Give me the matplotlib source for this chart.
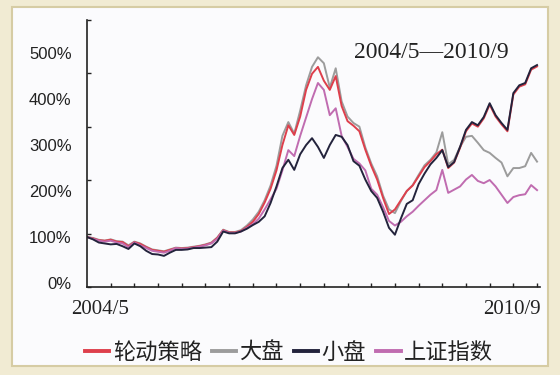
import numpy as np
import matplotlib.pyplot as plt
from matplotlib.patches import Rectangle

plt.rcParams['font.family'] = ['Noto Sans CJK SC', 'DejaVu Sans']

# monthly values, 2004/5 .. 2010/9 (77 months), in %
months = np.arange(77)
rotation = [100, 97, 93, 92, 94, 90, 89, 80, 89, 85,
            78, 72, 70, 68, 72, 76, 75, 76, 78, 80,
            83, 87, 98, 115, 110, 110, 113, 122, 133, 150,
            175, 205, 245, 300, 343, 322, 362, 420, 455, 470,
            440, 420, 450, 385, 352, 342, 330, 290, 255, 225,
            185, 150, 160, 180, 200, 212, 232, 252, 265, 280,
            290, 250, 262, 294, 330, 347, 340, 358, 388, 362,
            345, 330, 410, 427, 432, 464, 471]
large = [100, 98, 94, 92, 95, 91, 90, 82, 90, 86,
         79, 73, 71, 69, 73, 77, 76, 77, 79, 81,
         84, 88, 99, 116, 111, 111, 115, 125, 138, 155,
         180, 212, 255, 320, 350, 325, 375, 430, 470, 491,
         478, 425, 467, 395, 362, 348, 340, 295, 260, 232,
         190, 160, 152, 178, 200, 213, 235, 256, 268, 284,
         328, 258, 268, 296, 318, 320, 305, 289, 283, 272,
         262, 232, 250, 250, 254, 283, 264]
small = [100, 95, 88, 86, 84, 85, 80, 74, 86, 80,
         70, 63, 62, 59, 66, 72, 72, 73, 76, 76,
         77, 78, 90, 112, 108, 108, 112, 118, 126, 133,
         145, 174, 210, 250, 268, 246, 280, 300, 315, 296,
         272, 300, 322, 318, 300, 265, 255, 225, 200, 185,
         155, 120, 105, 140, 172, 180, 215, 238, 258, 272,
         289, 252, 263, 296, 333, 350, 343, 361, 391, 365,
         348, 333, 413, 430, 435, 467, 474]
shindex = [100, 96, 92, 90, 92, 88, 86, 78, 88, 82,
           76, 70, 68, 66, 70, 76, 74, 75, 77, 79,
           82, 86, 96, 114, 109, 109, 112, 120, 128, 140,
           160, 182, 205, 245, 289, 276, 320, 360, 400, 435,
           420, 365, 380, 320, 296, 270, 260, 245, 205, 192,
           165, 135, 125, 133, 145, 155, 168, 180, 192, 202,
           246, 196, 203, 210, 225, 235, 222, 217, 224, 210,
           192, 174, 187, 191, 193, 213, 202]

names = ['轮动策略', '大盘', '小盘', '上证指数']
colors = ['#de3f4c', '#9c9c9c', '#23233c', '#c06cb0']
yticks = [0, 100, 200, 300, 400, 500]
ylabels = ['0%', '100%', '200%', '300%', '400%', '500%']

fig = plt.figure(figsize=(5.6, 3.75), dpi=100)
fig.patch.set_facecolor('#f1ebd3')
fig.patches.append(Rectangle((12 / 560, 1 - 366 / 375), 536 / 560, 359 / 375,
                             transform=fig.transFigure, facecolor='#fbfbfd',
                             edgecolor='#d6cca4', linewidth=1.5, zorder=-10))

ax = fig.add_axes([87 / 560, 1 - 287 / 375, 453 / 560, 267 / 375])
ax.set_facecolor('none')

l_large, = ax.plot(months, large, color=colors[1], lw=1.4)
l_rot, = ax.plot(months, rotation, color=colors[0], lw=1.4)
l_sh, = ax.plot(months, shindex, color=colors[3], lw=1.4)
l_small, = ax.plot(months, small, color=colors[2], lw=1.4)

ax.set_xlim(0, 76.5)
ax.set_ylim(-8.7, 572)

for s in ['top', 'right']:
    ax.spines[s].set_visible(False)
for s in ['left', 'bottom']:
    ax.spines[s].set_linewidth(1.2)
    ax.spines[s].set_color('#222222')

ax.set_yticks(yticks)
ax.set_yticklabels(ylabels, family='Liberation Sans', fontsize=12, color='#222222')
ax.tick_params(axis='y', length=0, pad=11)
ax.set_yticks(np.linspace(-8.7, 572, 6), minor=True)
ax.set_xticks([])
ax.set_xticks(np.arange(4, 77, 4), minor=True)
ax.tick_params(which='minor', direction='in', length=3, width=1, color='#222222')

ax.text(0.029, -0.086, '2004/5', transform=ax.transAxes, ha='center', va='center',
        family='Liberation Serif', fontsize=15, color='#222222')
ax.text(0.938, -0.086, '2010/9', transform=ax.transAxes, ha='center', va='center',
        family='Liberation Serif', fontsize=15, color='#222222')
ax.text(0.76, 0.88, '2004/5\u20142010/9', transform=ax.transAxes, ha='center', va='center',
        family='Liberation Serif', fontsize=17, color='#222222')

leg = fig.legend([l_rot, l_large, l_small, l_sh], names, loc='center',
                 bbox_to_anchor=(289 / 560, 1 - 352 / 375), ncol=4, frameon=False,
                 fontsize=16, handlelength=1.1, handletextpad=0.15, columnspacing=0.45,
                 borderpad=0, labelcolor='#222222')
for ln in leg.get_lines():
    ln.set_linewidth(2.8)

fig.savefig('out.png', dpi=100, facecolor=fig.get_facecolor())
